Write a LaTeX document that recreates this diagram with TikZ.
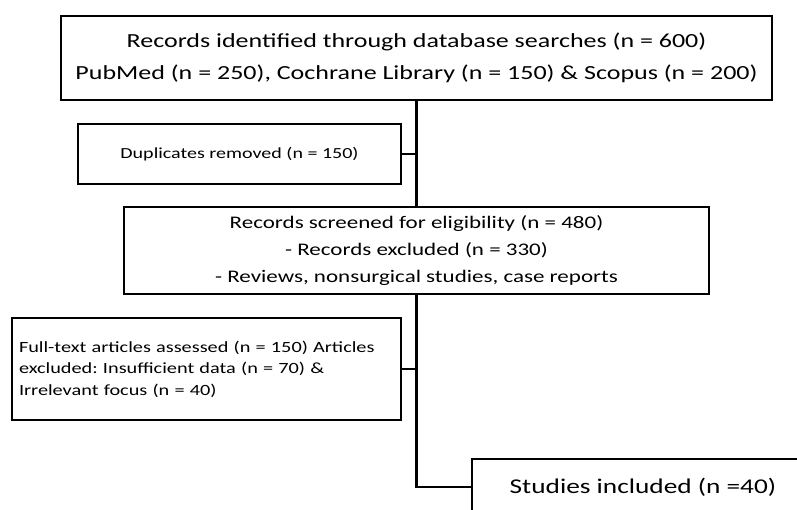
\documentclass[tikz,border=0pt]{standalone}
\usepackage{fontspec}
\setmainfont{Carlito}[FakeStretch=1.3]
\usetikzlibrary{positioning}
\frenchspacing

\begin{document}
\begin{tikzpicture}[
    x=1pt, y=-1pt,
    box/.style={rectangle, draw, line width=2.8pt, align=center, inner sep=2pt},
    link/.style={draw, line width=2.8pt}
]
    \clip (0,0) rectangle (797,509);
    \fill[white] (0,0) rectangle (797,509);

    \node[box, minimum width=711pt, minimum height=84pt, font=\fontsize{20}{32}\selectfont] (records) at (416.5,58)
        {Records identified through database searches (n = 600)\\PubMed (n = 250), Cochrane Library (n = 150) \& Scopus (n = 200)};
    \node[box, minimum width=323pt, minimum height=60pt, font=\fontsize{15.4}{18}\selectfont] (dups) at (239.5,154)
        {Duplicates removed (n = 150)};
    \node[box, minimum width=585pt, minimum height=87pt, font=\fontsize{17.7}{27}\selectfont] (screen) at (416.5,250.5)
        {Records screened for eligibility (n = 480)\\- Records excluded (n = 330)\\- Reviews, nonsurgical studies, case reports};
    \node[box, align=left, text width=375pt, inner sep=7pt, minimum height=102pt, font=\fontsize{15.6}{21.5}\selectfont] (fulltext) at (206.5,369)
        {Full-text articles assessed (n = 150) Articles\\excluded: Insufficient data (n = 70) \&\\Irrelevant focus (n = 40)};
    \node[box, minimum width=342pt, minimum height=56pt, font=\fontsize{21}{24}\selectfont] (studies) at (643,487)
        {Studies included (n =40)};

    % trunk and side links
    \draw[link] (records.south) -- (screen.north);
    \draw[link] (screen.south) |- (studies.west);
    \draw[link] (dups.east) -- (dups.east -| records.south);
    \draw[link] (fulltext.east) -- (fulltext.east -| screen.south);
\end{tikzpicture}
\end{document}
